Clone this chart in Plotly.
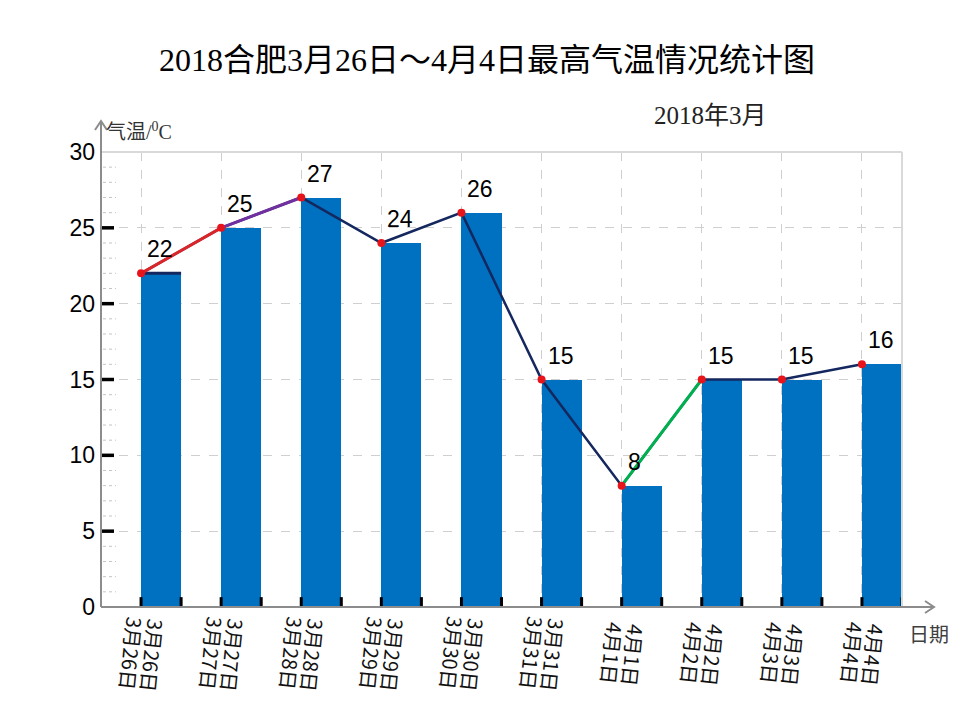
import plotly.graph_objects as go

# ---- data ----
dates = ["3月26日", "3月27日", "3月28日", "3月29日", "3月30日",
         "3月31日", "4月1日", "4月2日", "4月3日", "4月4日"]
temps = [22, 25, 27, 24, 26, 15, 8, 15, 15, 16]
y_ticks = [0, 5, 10, 15, 20, 25, 30]
y_minor_step = 1

title_text = "2018合肥3月26日～4月4日最高气温情况统计图"
subtitle_text = "2018年3月"
y_title = "气温/<sup>0</sup>C"
x_title = "日期"

# special segment colours (index of segment start -> colour)
seg_colors = {0: "#D9262A", 1: "#7030A0", 6: "#00B050"}

# ---- layout geometry (pixels) ----
W, H = 960, 720
L, R, T, B = 101, 58, 152, 113
PW, PH = W - L - R, H - T - B

idx = list(range(len(dates)))
BAR_BLUE = "#0070C0"
NAVY = "#14275E"
SERIF = "Liberation Serif, Noto Sans CJK SC"
SANS = "Liberation Sans, Noto Sans CJK SC"
X_MIN, X_MAX = -0.5, len(dates) - 0.5
UNIT_PX = PW / (X_MAX - X_MIN)

fig = go.Figure()

# bars (right half of each category slot)
fig.add_trace(go.Bar(
    x=[i + 0.25 for i in idx], y=temps, width=0.5,
    marker=dict(color=BAR_BLUE, line=dict(width=0)),
    hoverinfo="skip", showlegend=False))

# small black stubs at bar bottom corners
sx, sy = [], []
for i in idx:
    for e in (i, i + 0.5):
        sx += [e, e, None]
        sy += [0, 0.65, None]
fig.add_trace(go.Scatter(x=sx, y=sy, mode="lines",
                         line=dict(color="black", width=3),
                         hoverinfo="skip", showlegend=False))

# dark top edge on first bar
fig.add_trace(go.Scatter(x=[idx[0], idx[0] + 0.5], y=[temps[0], temps[0]],
                         mode="lines", line=dict(color=NAVY, width=3),
                         hoverinfo="skip", showlegend=False))

# main line
fig.add_trace(go.Scatter(x=idx, y=temps, mode="lines",
                         line=dict(color=NAVY, width=2.5),
                         hoverinfo="skip", showlegend=False))
# coloured segments
for s, c in seg_colors.items():
    fig.add_trace(go.Scatter(x=[idx[s], idx[s + 1]], y=[temps[s], temps[s + 1]],
                             mode="lines", line=dict(color=c, width=3),
                             hoverinfo="skip", showlegend=False))
# red dots
fig.add_trace(go.Scatter(x=idx, y=temps, mode="markers",
                         marker=dict(color="#E8141C", size=8),
                         hoverinfo="skip", showlegend=False))

# major y ticks (black, inside): short horizontal segments at each inner tick value
tx, ty = [], []
for v in y_ticks[1:-1]:
    tx += [X_MIN, X_MIN + 13 / UNIT_PX, None]
    ty += [v, v, None]
fig.add_trace(go.Scatter(x=tx, y=ty, mode="lines",
                         line=dict(color="black", width=3.5),
                         hoverinfo="skip", showlegend=False, cliponaxis=False))

annotations = []
# value labels
for i, v in zip(idx, temps):
    annotations.append(dict(x=i, y=v, xref="x", yref="y", text=str(v),
                            showarrow=False, xanchor="left", yanchor="bottom",
                            xshift=4, yshift=9,
                            font=dict(family=SANS, size=23, color="black")))
# doubled rotated date labels
for i, d in zip(idx, dates):
    for xs, ys in ((-9, -46), (12, -48)):
        annotations.append(dict(x=i, y=0, xref="x", yref="paper", text=d,
                                showarrow=False, textangle=96,
                                xanchor="center", yanchor="middle",
                                xshift=xs, yshift=ys,
                                font=dict(family="Noto Sans CJK SC", size=20,
                                          color="#111111")))
# axis titles / subtitle
annotations.append(dict(x=(104 - L) / PW, y=(H - B - 131) / PH, xref="paper", yref="paper",
                        text=y_title, showarrow=False, xanchor="left", yanchor="middle",
                        font=dict(family=SERIF, size=20, color="#333333")))
annotations.append(dict(x=(907 - L) / PW, y=(H - B - 635) / PH, xref="paper", yref="paper",
                        text=x_title, showarrow=False, xanchor="left", yanchor="middle",
                        font=dict(family=SANS, size=20, color="#404040")))
annotations.append(dict(x=(710 - L) / PW, y=(H - B - 115) / PH, xref="paper", yref="paper",
                        text=subtitle_text, showarrow=False, xanchor="center", yanchor="middle",
                        font=dict(family=SERIF, size=25, color="#222222")))

def px(xp):
    return (xp - L) / PW

def py(yp):
    return (H - B - yp) / PH

AX = "#8C8C8C"
shapes = [
    # top & right borders
    dict(type="line", xref="paper", yref="paper", x0=0, x1=1, y0=1, y1=1,
         line=dict(color="#D9D9D9", width=2)),
    dict(type="line", xref="paper", yref="paper", x0=1, x1=1, y0=0, y1=1,
         line=dict(color="#D9D9D9", width=2)),
]
# y-axis minor ticks (dotted grey), inside
for v in range(y_ticks[0], y_ticks[-1], y_minor_step):
    if v in y_ticks:
        continue
    shapes.append(dict(type="line", xref="paper", yref="y", x0=px(103), x1=px(116),
                       y0=v, y1=v, line=dict(color="#C4C4C4", width=1, dash="dot")))
shapes += [
    # y axis with arrow
    dict(type="path", xref="paper", yref="paper",
         path=f"M {px(101)},{py(607)} L {px(101)},{py(121)} "
              f"M {px(95)},{py(130)} L {px(101)},{py(121)} L {px(107)},{py(130)}",
         line=dict(color=AX, width=2)),
    # x axis with arrow
    dict(type="path", xref="paper", yref="paper",
         path=f"M {px(101)},{py(607)} L {px(934)},{py(607)} "
              f"M {px(925)},{py(601)} L {px(934)},{py(607)} L {px(925)},{py(613)}",
         line=dict(color=AX, width=2)),
]

fig.update_layout(
    width=W, height=H,
    margin=dict(l=L, r=R, t=T, b=B, pad=0),
    paper_bgcolor="white", plot_bgcolor="white",
    title=dict(text=title_text, x=487 / W, xanchor="center",
               y=1 - 60 / H, yanchor="middle", yref="container",
               font=dict(family=SERIF, size=32, color="black")),
    xaxis=dict(range=[X_MIN, X_MAX], tickvals=idx, showticklabels=False,
               showgrid=True, gridcolor="#CFCFCF", griddash="dash", gridwidth=1,
               zeroline=False, showline=False, ticks=""),
    yaxis=dict(range=[0, 30], tickvals=y_ticks, ticktext=[str(t) for t in y_ticks],
               showgrid=True, gridcolor="#CFCFCF", griddash="dash", gridwidth=1,
               zeroline=False, showline=False, ticks="",
               tickfont=dict(family=SANS, size=23, color="black"),
               ticklabelstandoff=5),
    annotations=annotations,
    shapes=shapes,
    bargap=0,
)

fig.write_html("out.html")
